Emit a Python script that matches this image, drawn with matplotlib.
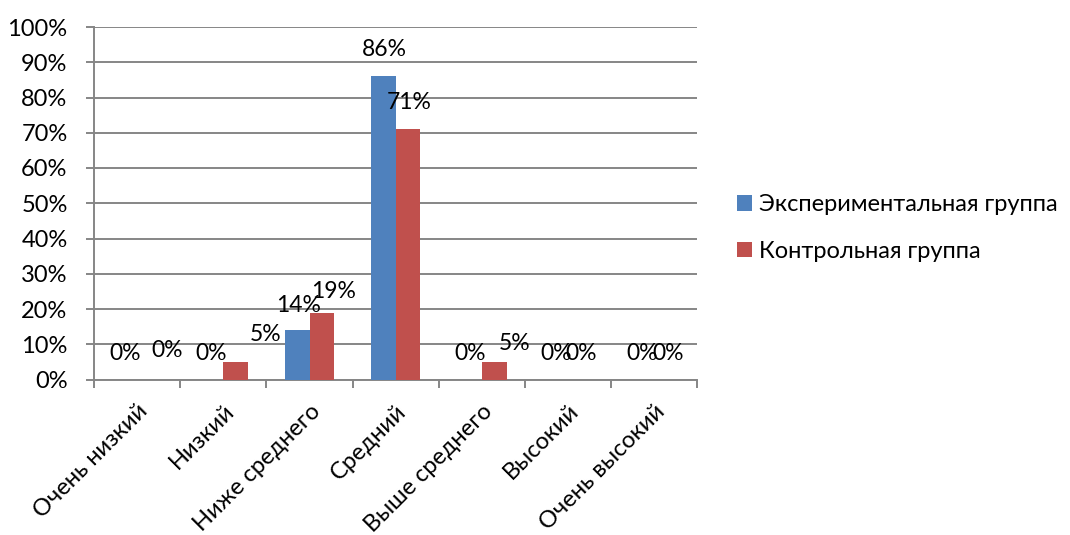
import matplotlib
matplotlib.use("Agg")
import matplotlib.pyplot as plt
import numpy as np
from matplotlib.ticker import FixedLocator, PercentFormatter

categories = ["Очень низкий", "Низкий", "Ниже среднего", "Средний",
              "Выше среднего", "Высокий", "Очень высокий"]
exp_values = [0, 0, 14, 86, 0, 0, 0]
ctrl_values = [0, 5, 19, 71, 5, 0, 0]
series_names = ["Экспериментальная группа", "Контрольная группа"]

# label nudges (pixels) to mimic the overlapping Excel label layout
exp_dx = [0, 0, 1, 1, 0, 0, 0]
exp_dy = [26, 26, 25, 27, 26, 26, 26]
ctrl_dx = [18, 30, 12, 1, 20, 1, 1]
ctrl_dy = [29, 27, 21, 27, 18, 26, 26]

plt.rcParams['font.family'] = ['Lato', 'DejaVu Sans']

fig = plt.figure(figsize=(10.7, 5.35), dpi=100)
ax = fig.add_axes([94 / 1070, 1 - 379.5 / 535, 603.5 / 1070, 352.5 / 535])

x = np.arange(len(categories))
w = 0.285
blue = "#4F81BD"
red = "#C0504D"
grey = "#868686"
b1 = ax.bar(x - w / 2, exp_values, w, color=blue, label=series_names[0], zorder=3)
b2 = ax.bar(x + w / 2, ctrl_values, w, color=red, label=series_names[1], zorder=3)

for rects, vals, dxs, dys in [(b1, exp_values, exp_dx, exp_dy),
                              (b2, ctrl_values, ctrl_dx, ctrl_dy)]:
    for r, v, dx, dy in zip(rects, vals, dxs, dys):
        ax.annotate(f"{v}%", (r.get_x() + r.get_width() / 2, v),
                    xytext=(dx, dy), textcoords="offset pixels",
                    ha="center", va="center", fontsize=16.5, zorder=4)

ax.set_xlim(-0.5, len(categories) - 0.5)
ax.set_ylim(0, 100)
ax.yaxis.set_major_locator(FixedLocator(np.arange(0, 101, 10)))
ax.yaxis.set_major_formatter(PercentFormatter(decimals=0))
ax.grid(axis="y", color=grey, linewidth=1.4, zorder=0)

ax.set_xticks(x)
ax.set_xticklabels(categories, rotation=45, ha="right", va="top",
                   rotation_mode="anchor")
ax.xaxis.set_minor_locator(FixedLocator(np.arange(-0.5, len(categories), 1)))
ax.tick_params(axis="x", which="major", length=0, pad=15, labelsize=17)
ax.tick_params(axis="x", which="minor", length=6, width=1.4, color=grey)
ax.tick_params(axis="y", length=6, width=1.4, color=grey, pad=13, labelsize=17)

for s in ["top", "right"]:
    ax.spines[s].set_visible(False)
for s in ["left", "bottom"]:
    ax.spines[s].set_color(grey)
    ax.spines[s].set_linewidth(1.4)

ax.legend(loc="center left", bbox_to_anchor=(737 / 1070, 1 - 228 / 535),
          bbox_transform=fig.transFigure, frameon=False, borderpad=0,
          borderaxespad=0, fontsize=17, handlelength=0.64, handleheight=0.64,
          handletextpad=0.3, labelspacing=1.1)

fig.savefig("out.png", dpi=100)
